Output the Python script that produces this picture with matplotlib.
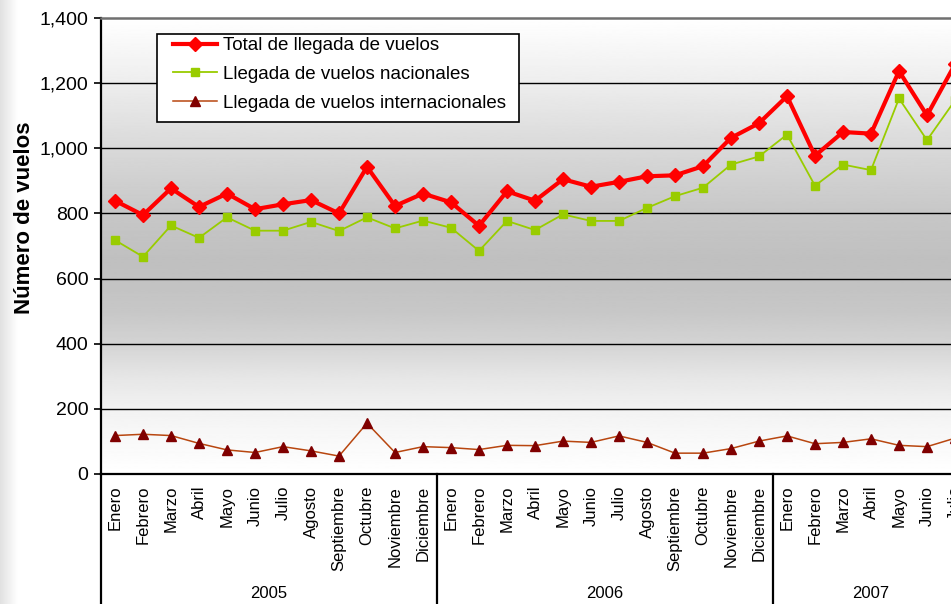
import numpy as np
import matplotlib
matplotlib.use("Agg")
import matplotlib.pyplot as plt
from matplotlib.ticker import FuncFormatter
from matplotlib.patches import Rectangle
import matplotlib.transforms as mtransforms

plt.rcParams["font.family"] = ["Liberation Sans", "DejaVu Sans"]

# data (2005 - Julio 2007)
months = ["Enero", "Febrero", "Marzo", "Abril", "Mayo", "Junio", "Julio",
          "Agosto", "Septiembre", "Octubre", "Noviembre", "Diciembre"]
month_labels = months + months + months[:7]
years = ["2005", "2006", "2007"]
year_counts = [12, 12, 7]

total = [839, 795, 877, 820, 861, 813, 828, 841, 800, 943, 823, 861,
         834, 762, 868, 839, 905, 882, 897, 914, 917, 945, 1032, 1077,
         1160, 977, 1050, 1045, 1237, 1101, 1258]
nacional = [718, 667, 763, 725, 788, 747, 747, 774, 746, 788, 754, 778,
            756, 685, 777, 749, 797, 777, 777, 817, 853, 879, 950, 975,
            1042, 885, 950, 933, 1153, 1025, 1147]
internacional = [118, 122, 118, 94, 74, 66, 84, 71, 55, 156, 66, 84,
                 81, 75, 88, 87, 101, 97, 117, 97, 64, 64, 78, 101,
                 117, 93, 97, 108, 88, 84, 110]

W, H = 951, 604
fig = plt.figure(figsize=(W / 100, H / 100), dpi=100)
fig.patch.set_facecolor("white")

# faint shadow strip on the left edge
shadow = fig.add_axes([0, 0, 18 / W, 1])
shadow.imshow(np.linspace(0.88, 1.0, 50).reshape(1, -1), cmap="gray",
              vmin=0, vmax=1, aspect="auto", extent=(0, 1, 0, 1))
shadow.axis("off")

n = len(total)
ax_left, ax_top, ax_bottom = 101, 18, 474
ax_right = ax_left + 28 * n
ax = fig.add_axes([ax_left / W, (H - ax_bottom) / H,
                   (ax_right - ax_left) / W, (ax_bottom - ax_top) / H])
ax.set_xlim(-0.5, n - 0.5)
ax.set_ylim(0, 1400)

# background gradient (white -> gray -> white)
yy = np.linspace(0, 1400, 600)
stops_v = [0, 200, 300, 400, 500, 650, 800, 1000, 1200, 1400]
stops_g = [1.0, 0.95, 0.90, 0.83, 0.78, 0.75, 0.78, 0.85, 0.93, 1.0]
grad = np.interp(yy, stops_v, stops_g).reshape(-1, 1)
ax.imshow(grad, cmap="gray", vmin=0, vmax=1, aspect="auto", origin="lower",
          extent=(-0.5, n - 0.5, 0, 1400), zorder=0)

x = np.arange(n)
ax.plot(x, internacional, color="#B8460F", lw=1.1, marker="^", ms=7,
        mfc="#800000", mec="#800000", zorder=3,
        label="Llegada de vuelos internacionales")
ax.plot(x, nacional, color="#99CC00", lw=1.3, marker="s", ms=6.3,
        mfc="#99CC00", mec="#99CC00", zorder=4,
        label="Llegada de vuelos nacionales")
ax.plot(x, total, color="#FF0000", lw=3.0, marker="D", ms=6.8,
        mfc="#FF0000", mec="#FF0000", zorder=5,
        label="Total de llegada de vuelos")

# grid and spines
ax.set_yticks(range(0, 1401, 200))
ax.yaxis.set_major_formatter(FuncFormatter(lambda v, p: f"{int(v):,}"))
for v in range(200, 1400, 200):
    ax.axhline(v, color="black", lw=1.0, zorder=1)
ax.spines["right"].set_visible(False)
ax.spines["top"].set_color("#707070")
ax.spines["top"].set_linewidth(1.8)
ax.spines["left"].set_linewidth(1.6)
ax.spines["bottom"].set_linewidth(1.6)
ax.tick_params(axis="y", direction="out", length=5, width=1.2, pad=4,
               labelsize=14)
ax.set_xticks(x)
ax.set_xticklabels(month_labels, rotation=90, fontsize=12)
ax.tick_params(axis="x", length=0, pad=8.5)

# multi-level category axis: separators and year labels
trans = mtransforms.blended_transform_factory(ax.transData, ax.transAxes)
depth = -(H - ax_bottom) / (ax_bottom - ax_top)
start = 0
for yr, cnt in zip(years, year_counts):
    ax.plot([start - 0.5, start - 0.5], [0, depth], color="black", lw=1.6,
            transform=trans, clip_on=False)
    ax.text(start + (cnt - 1) / 2, -(593 - ax_bottom) / (ax_bottom - ax_top),
            yr, transform=trans, ha="center", va="center", fontsize=12)
    start += cnt

fig.text(25 / W, 1 - 218 / H, "Número de vuelos", rotation=90,
         ha="center", va="center", fontsize=16, fontweight="bold")

# legend box drawn separately so its padding matches the reference
box = Rectangle((157 / W, 1 - 122 / H), (519 - 157) / W, (122 - 34) / H,
                transform=fig.transFigure, facecolor="white",
                edgecolor="black", lw=1.2, zorder=9, clip_on=False)
ax.add_patch(box)

handles, labels = ax.get_legend_handles_labels()
leg = ax.legend(handles[::-1], labels[::-1], loc="upper left",
                bbox_to_anchor=(173 / W, 1 - 37 / H),
                bbox_transform=fig.transFigure, fontsize=13.5,
                frameon=False, borderaxespad=0, borderpad=0,
                labelspacing=0.62, handlelength=2.35, handletextpad=0.3)
leg.set_zorder(10)

fig.savefig("out.png", dpi=100)
